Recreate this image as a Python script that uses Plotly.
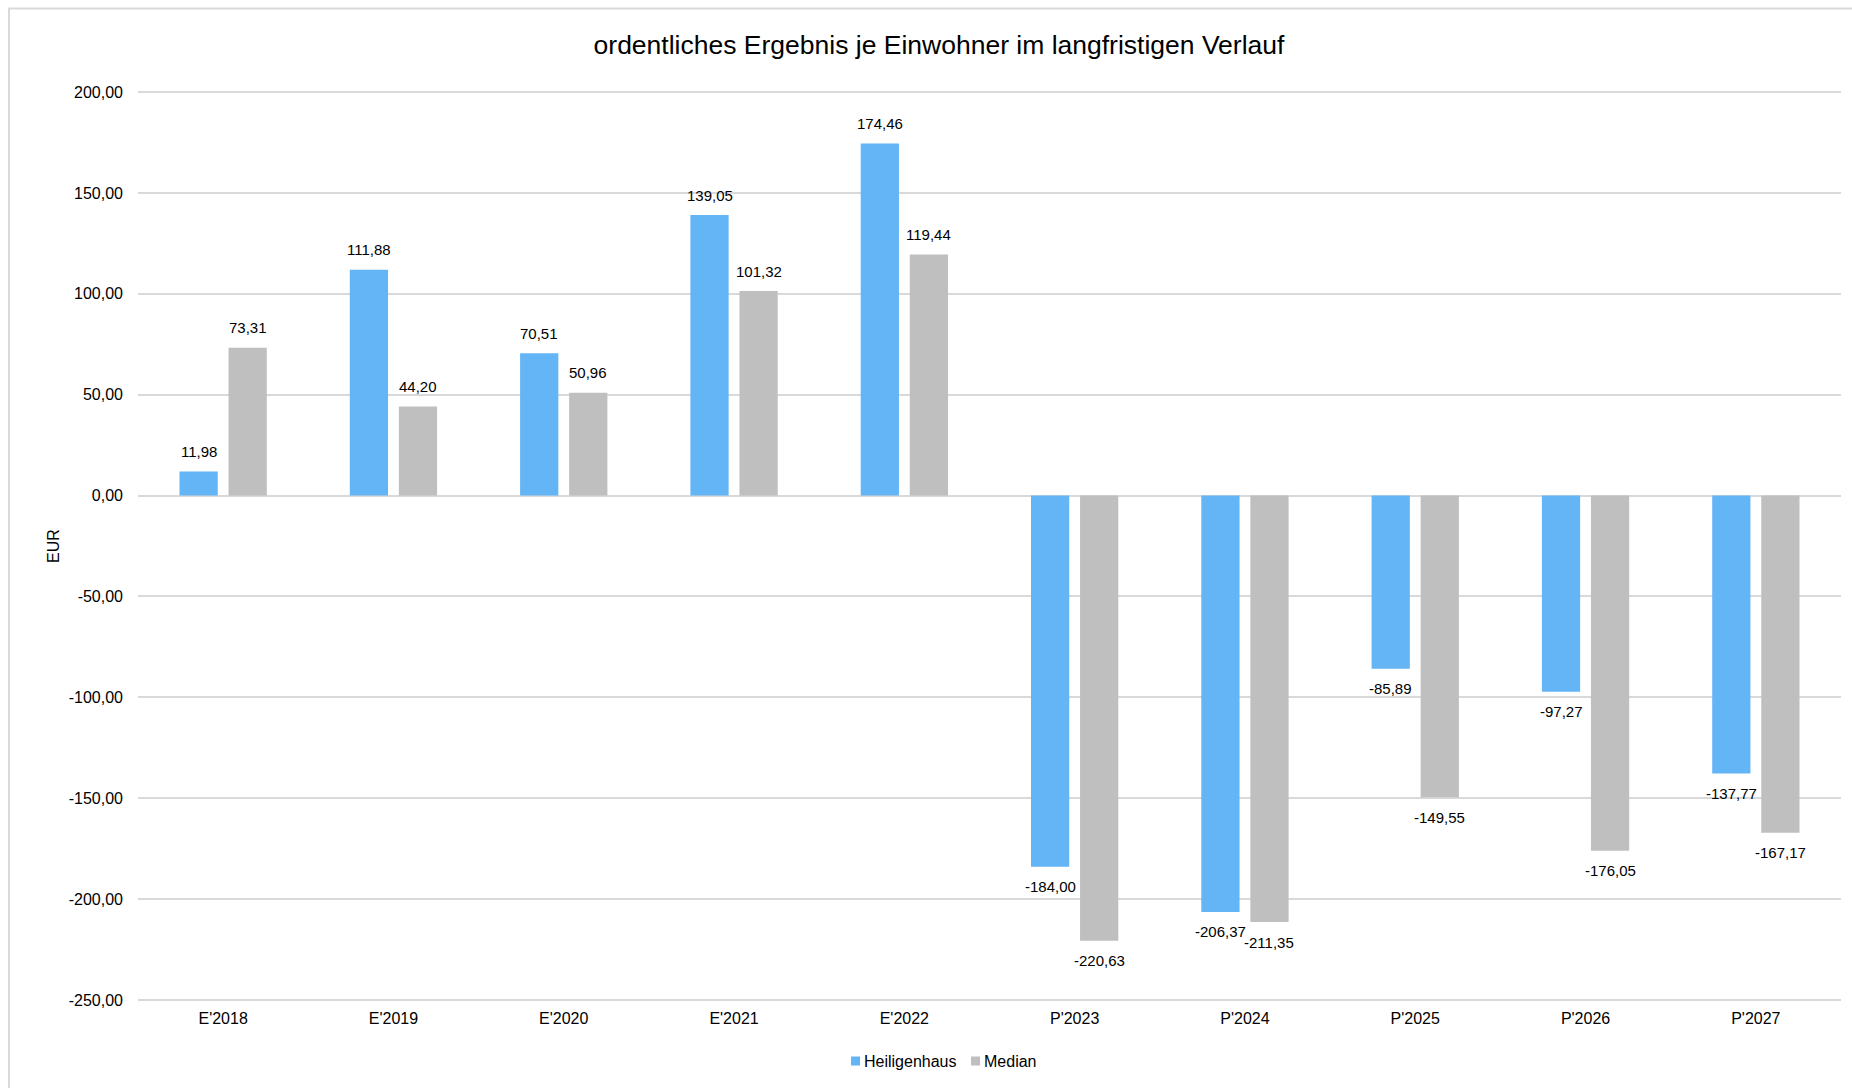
import plotly.graph_objects as go

# Ordentliches Ergebnis je Einwohner (EUR), Ist- und Planwerte
categories = ["E'2018", "E'2019", "E'2020", "E'2021", "E'2022",
              "P'2023", "P'2024", "P'2025", "P'2026", "P'2027"]
heiligenhaus = [11.98, 111.88, 70.51, 139.05, 174.46,
                -184.00, -206.37, -85.89, -97.27, -137.77]
median = [73.31, 44.20, 50.96, 101.32, 119.44,
          -220.63, -211.35, -149.55, -176.05, -167.17]
y_ticks = [200, 150, 100, 50, 0, -50, -100, -150, -200, -250]
series_names = ["Heiligenhaus", "Median"]

BLUE = "#64B5F6"
GREY = "#BFBFBF"
GRID = "#D9D9D9"
FONT = "Liberation Sans, Arial, sans-serif"

W, H = 1852, 1088
M_LEFT, M_RIGHT, M_TOP, M_BOTTOM = 138, 11, 90, 86
plot_w = W - M_LEFT - M_RIGHT
plot_h = H - M_TOP - M_BOTTOM


def fmt(v):
    # German number format with a plain hyphen as minus sign
    return f"{v:.2f}".replace(".", ",")


fig = go.Figure()
fig.add_trace(go.Bar(name=series_names[0], x=categories, y=heiligenhaus,
                     marker=dict(color=BLUE, line=dict(width=0)),
                     showlegend=False))
fig.add_trace(go.Bar(name=series_names[1], x=categories, y=median,
                     marker=dict(color=GREY, line=dict(width=0)),
                     showlegend=False))

# value labels just outside the end of each bar
annotations = []
for series, offset in ((heiligenhaus, -24.5), (median, 24.5)):
    for cat, v in zip(categories, series):
        annotations.append(dict(
            x=cat, y=v, xref="x", yref="y", text=fmt(v), showarrow=False,
            xshift=offset, yshift=20 if v >= 0 else -20,
            xanchor="center", yanchor="middle",
            font=dict(family=FONT, size=15, color="#000000")))

# compact legend below the category axis: small square + name
shapes = [dict(type="rect", xref="paper", yref="paper",
               xsizemode="pixel", ysizemode="pixel", xanchor=0, yanchor=1,
               x0=9 - M_LEFT, x1=W - M_LEFT + 10,
               y0=M_TOP - 8.5, y1=-(H - M_TOP + 10),
               line=dict(color=GRID, width=2), fillcolor="rgba(0,0,0,0)",
               layer="below")]
legend_y_px = 1061          # vertical centre of the legend row
plot_bottom_px = H - M_BOTTOM
for name, color, sq_left in ((series_names[0], BLUE, 851),
                             (series_names[1], GREY, 971)):
    shapes.append(dict(type="rect", xref="paper", yref="paper",
                       xsizemode="pixel", ysizemode="pixel",
                       xanchor=0, yanchor=0,
                       x0=sq_left - M_LEFT, x1=sq_left + 9 - M_LEFT,
                       y0=-(legend_y_px - 4.5 - plot_bottom_px),
                       y1=-(legend_y_px + 4.5 - plot_bottom_px),
                       fillcolor=color, line=dict(width=0)))
    annotations.append(dict(
        xref="paper", yref="paper", showarrow=False,
        x=(sq_left + 11 - M_LEFT) / plot_w, xanchor="left",
        y=-(legend_y_px - plot_bottom_px) / plot_h, yanchor="middle",
        text=name, font=dict(family=FONT, size=16, color="#000000")))

fig.update_layout(
    width=W, height=H,
    margin=dict(l=M_LEFT, r=M_RIGHT, t=M_TOP, b=M_BOTTOM),
    paper_bgcolor="white", plot_bgcolor="white",
    barmode="group", bargap=0.424, bargroupgap=0.22,
    font=dict(family=FONT, size=16, color="#000000"),
    title=dict(text="ordentliches Ergebnis je Einwohner im langfristigen Verlauf",
               x=939 / W, xref="container", xanchor="center",
               y=1 - 45 / H, yref="container", yanchor="middle",
               font=dict(family=FONT, size=26.5, color="#000000")),
    showlegend=False,
    annotations=annotations,
    shapes=shapes,
)

fig.update_xaxes(showgrid=False, showline=False, ticks="", zeroline=False,
                 tickfont=dict(family=FONT, size=16), ticklabelstandoff=5)
fig.update_yaxes(range=[-251, 201], tickvals=y_ticks,
                 ticktext=[fmt(t) for t in y_ticks],
                 showgrid=True, gridcolor=GRID, gridwidth=2,
                 zeroline=True, zerolinecolor=GRID, zerolinewidth=2,
                 showline=False, ticks="", ticklabelstandoff=14,
                 tickfont=dict(family=FONT, size=16),
                 title=dict(text="EUR", standoff=5,
                            font=dict(family=FONT, size=16)))

fig.write_html("out.html")
